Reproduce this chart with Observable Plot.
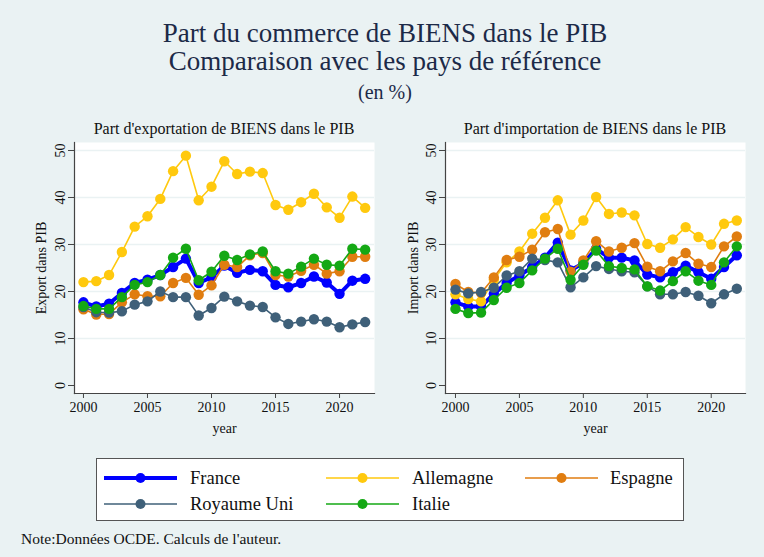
<!DOCTYPE html>
<html><head><meta charset="utf-8">
<script src="https://cdn.jsdelivr.net/npm/d3@7"></script>
<script src="https://cdn.jsdelivr.net/npm/@observablehq/plot@0.6"></script>
<style>
html,body{margin:0;padding:0;background:#eaf2f3;}
#page{position:relative;width:764px;height:557px;background:#eaf2f3;overflow:hidden;font-family:"Liberation Serif","Times New Roman",serif;}
.t{position:absolute;left:0;width:770px;text-align:center;color:#1c2a48;white-space:nowrap;}
.sub{position:absolute;text-align:center;color:#111;font-size:16px;white-space:nowrap;}
#legend{position:absolute;left:96px;top:458px;width:586px;height:61px;background:#fff;border:1.5px solid #555;}
.li{position:absolute;display:flex;align-items:center;font-size:18.5px;color:#111;white-space:nowrap;}
.note{position:absolute;left:21px;top:530px;font-size:15.5px;color:#111;white-space:nowrap;}
</style></head><body><div id="page"></div>
<script>
const years = [2000,2001,2002,2003,2004,2005,2006,2007,2008,2009,2010,2011,2012,2013,2014,2015,2016,2017,2018,2019,2020,2021,2022];
const countries = ["France","Allemagne","Espagne","Royaume Uni","Italie"];
const colors = ["#0000ff","#ffc90e","#e07d10","#3f6079","#14a814"];
const xTicks = [2000,2005,2010,2015,2020];
const yTicks = [0,10,20,30,40,50];

const exportFrance    = [17.7,16.8,17.4,19.7,21.8,22.5,23.5,25.2,27.0,21.8,23.0,25.5,24.0,24.6,24.3,21.4,20.9,21.8,23.2,21.9,19.5,22.3,22.7];
const exportAllemagne = [22.0,22.2,23.5,28.4,33.8,36.0,39.7,45.6,48.9,39.4,42.3,47.7,45.0,45.5,45.2,38.4,37.4,39.0,40.8,37.9,35.7,40.2,37.8];
const exportEspagne   = [16.2,15.1,15.2,17.7,19.4,19.0,19.0,21.8,22.9,19.3,21.3,25.7,25.2,27.7,28.2,23.5,23.2,24.4,25.7,23.8,24.3,27.4,27.4];
const exportRU        = [16.7,15.6,15.5,15.8,17.2,17.9,20.0,18.8,18.8,14.9,16.5,18.9,17.9,17.0,16.7,14.5,13.1,13.6,14.1,13.6,12.4,13.0,13.5];
const exportItalie    = [16.9,16.3,16.3,18.8,21.4,22.0,23.5,27.2,29.1,22.4,24.2,27.6,26.7,27.9,28.5,24.3,23.8,25.3,27.0,25.7,25.5,29.1,28.9];

const importFrance    = [17.7,16.8,16.8,19.5,21.8,23.4,25.2,27.2,30.4,24.5,26.0,29.1,27.2,27.2,26.6,23.6,23.0,24.1,25.5,24.1,22.7,25.2,27.7];
const importAllemagne = [19.4,18.4,17.9,22.5,26.2,28.5,32.3,35.7,39.4,32.1,35.1,40.1,36.5,36.8,36.2,30.1,29.3,31.1,33.7,31.6,30.0,34.4,35.1];
const importEspagne   = [21.6,19.9,19.7,23.0,26.7,27.4,28.9,32.6,33.3,24.2,26.6,30.7,28.5,29.3,30.3,25.3,24.3,26.4,28.2,25.9,25.2,29.6,31.7];
const importRU        = [20.4,19.6,19.9,20.8,23.4,24.3,27.0,26.7,26.2,20.9,23.0,25.4,24.8,24.3,24.1,21.1,19.4,19.4,19.9,19.1,17.5,19.4,20.6];
const importItalie    = [16.3,15.4,15.5,18.2,20.8,21.8,24.5,27.0,29.1,22.5,25.7,28.7,25.4,25.0,24.7,21.1,20.2,22.2,24.3,22.3,21.4,26.2,29.6];

const exportSeries = [exportFrance, exportAllemagne, exportEspagne, exportRU, exportItalie];
const importSeries = [importFrance, importAllemagne, importEspagne, importRU, importItalie];

const page = document.getElementById("page");
function addDiv(cls, text, style) {
  const d = document.createElement("div");
  d.className = cls; d.textContent = text;
  Object.assign(d.style, style || {});
  page.appendChild(d);
  return d;
}

addDiv("t", "Part du commerce de BIENS dans le PIB", {top:"18px", fontSize:"27px"});
addDiv("t", "Comparaison avec les pays de référence", {top:"46px", fontSize:"27px"});
addDiv("t", "(en %)", {top:"81px", fontSize:"20px"});

function panel(subtitle, ylabel, seriesArr, left, width, marginLeft, marginRight, xdomain, ylabelOffset) {
  const marks = [
    Plot.frame({fill:"white", stroke:null}),
    Plot.gridY(yTicks.filter(d => d > 0), {stroke:"#eaf2f3", strokeOpacity:1, strokeWidth:1.5}),
    Plot.axisX({ticks:xTicks, tickFormat:d => String(d), tickSize:5, tickPadding:4, stroke:"#444", fill:"#111",
      label:"year", labelAnchor:"center", labelArrow:"none", labelOffset:39, fontSize:14}),
    Plot.axisY({ticks:yTicks, tickRotate:-90, tickSize:6, tickPadding:4, stroke:"#444", fill:"#111",
      label:ylabel, labelAnchor:"center", labelArrow:"none", labelOffset:ylabelOffset, fontSize:14}),
    Plot.frame({anchor:"left", stroke:"#444", strokeWidth:1.2}),
    Plot.frame({anchor:"bottom", stroke:"#444", strokeWidth:1.2})
  ];
  countries.forEach((c, i) => {
    const data = years.map((y, j) => ({year:y, value:seriesArr[i][j]}));
    marks.push(Plot.line(data, {x:"year", y:"value", stroke:colors[i], strokeWidth: i === 0 ? 4 : 1.6, curve:"linear"}));
    marks.push(Plot.dot(data, {x:"year", y:"value", fill:colors[i], stroke:null, r:5.2}));
  });
  const chart = Plot.plot({
    width, height:298,
    marginLeft, marginRight, marginTop:2, marginBottom:45,
    style:{background:"transparent", fontFamily:"Liberation Serif, serif", fontSize:"14px", color:"#111", overflow:"visible"},
    x:{domain:xdomain},
    y:{domain:[-1.7,51.7]},
    marks
  });
  chart.style.position = "absolute";
  chart.style.left = left + "px";
  chart.style.top = "140px";
  page.appendChild(chart);
  const plotLeft = left + marginLeft, plotRight = left + width - marginRight;
  addDiv("sub", subtitle, {left:(plotLeft - 60) + "px", width:(plotRight - plotLeft + 120) + "px", top:"120px"});
}

panel("Part d'exportation de BIENS dans le PIB", "Export dans PIB", exportSeries, 0, 382, 74, 8, [1999.3, 2022.73], 38);
panel("Part d'importation de BIENS dans le PIB", "Import dans PIB", importSeries, 382, 382, 63, 19, [1999.22, 2022.68], 37);

// Legend
const legend = document.createElement("div");
legend.id = "legend";
page.appendChild(legend);
const colX = [7, 229, 428];
const textX = [93, 315, 513];
const rowY = [19, 45];
countries.forEach((c, i) => {
  const col = i < 3 ? i : i - 3;
  const row = i < 3 ? 0 : 1;
  const item = document.createElement("div");
  item.className = "li";
  item.style.left = colX[col] + "px";
  item.style.top = (rowY[row] - 12) + "px";
  item.style.height = "24px";
  const ns = "http://www.w3.org/2000/svg";
  const svg = document.createElementNS(ns, "svg");
  svg.setAttribute("width", 74); svg.setAttribute("height", 24);
  const ln = document.createElementNS(ns, "line");
  ln.setAttribute("x1", 0); ln.setAttribute("x2", 73); ln.setAttribute("y1", 12); ln.setAttribute("y2", 12);
  ln.setAttribute("stroke", colors[i]); ln.setAttribute("stroke-width", i === 0 ? 4 : 1.6);
  const ci = document.createElementNS(ns, "circle");
  ci.setAttribute("cx", 36.5); ci.setAttribute("cy", 12); ci.setAttribute("r", 5); ci.setAttribute("fill", colors[i]);
  svg.appendChild(ln); svg.appendChild(ci);
  item.appendChild(svg);
  const tx = document.createElement("span");
  tx.textContent = c;
  tx.style.marginLeft = (textX[col] - colX[col] - 74) + "px";
  item.appendChild(tx);
  legend.appendChild(item);
});

addDiv("note", "Note:Données OCDE. Calculs de l'auteur.");
</script></body></html>
